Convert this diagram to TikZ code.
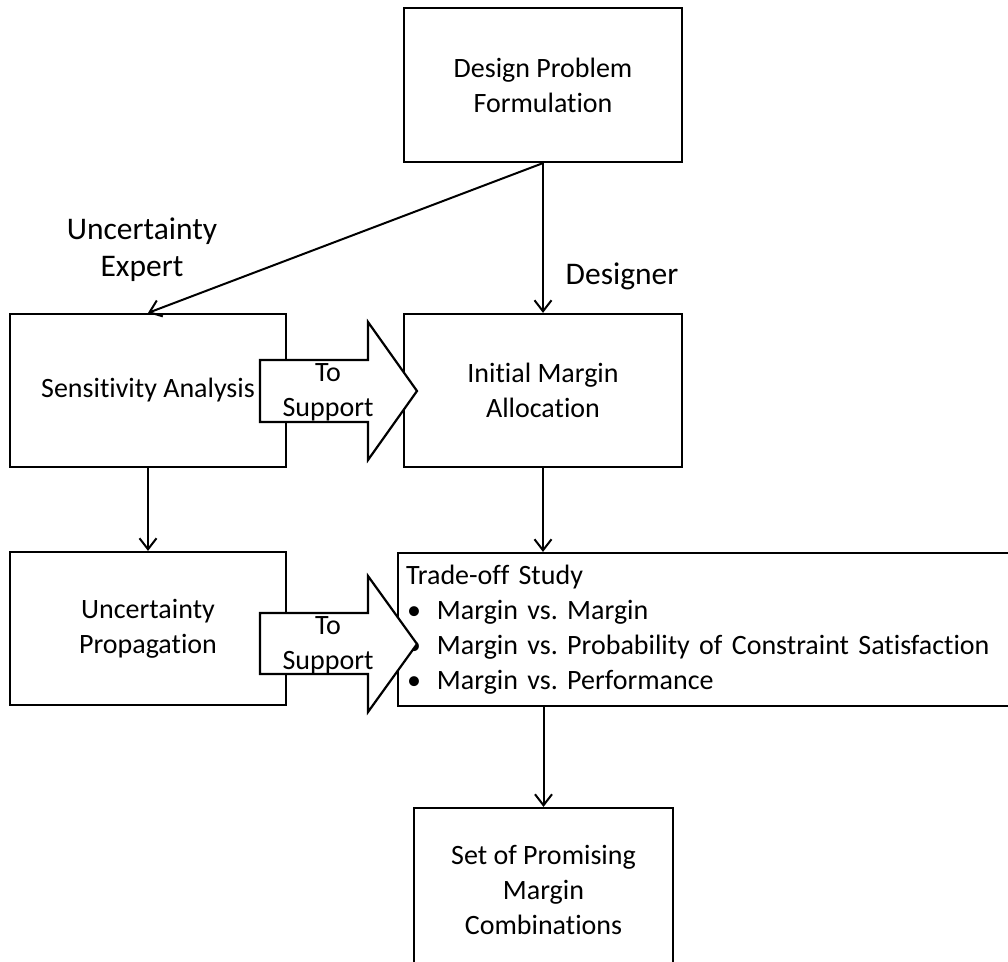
\documentclass[tikz,border=0pt]{standalone}
\usepackage{fontspec}
\setmainfont{Carlito}[Ligatures=CommonOff]
\usetikzlibrary{arrows.meta}
\begin{document}
\frenchspacing
\begin{tikzpicture}[x=1pt,y=-1pt,
  font=\fontsize{28}{35}\selectfont,
  box/.style={draw, line width=2.2pt, rectangle, align=center, inner sep=0pt},
  conn/.style={line width=2pt, -{Straight Barb[length=11pt,width=17pt,line width=2pt]}},
  blockarrow/.style={draw, fill=white, line width=2.2pt, line join=miter},
  lbl/.style={align=center, inner sep=0pt},
  biglbl/.style={align=center, inner sep=0pt, font=\fontsize{31.5}{37}\selectfont}
]
\useasboundingbox (0,0) rectangle (1008,961);

\node[box, minimum width=278pt, minimum height=154pt] (design) at (543,85) {Design Problem\\Formulation};
\node[box, minimum width=276pt, minimum height=153pt] (sens) at (148,390.5) {Sensitivity Analysis};
\node[box, minimum width=278pt, minimum height=153pt] (init) at (543,390.5) {Initial Margin\\Allocation};
\node[box, minimum width=276pt, minimum height=153pt] (prop) at (148,628.5) {Uncertainty\\Propagation};
\node[box, minimum width=617pt, minimum height=153pt, align=left, text width=601pt, inner xsep=8pt] (trade) at (706.5,629.5)
  {Trade-off Study\\
   \makebox[31pt][l]{\hspace*{1pt}\textbullet}Margin vs. Margin\\
   \makebox[31pt][l]{\hspace*{1pt}\textbullet}Margin vs. Probability of Constraint Satisfaction\\
   \makebox[31pt][l]{\hspace*{1pt}\textbullet}Margin vs. Performance};
\node[box, minimum width=259pt, minimum height=164pt] (set) at (543.5,890) {Set of Promising\\Margin\\Combinations};

\node[biglbl] (uexp) at (142,250) {Uncertainty\\Expert};
\node[biglbl] (des) at (622,276) {Designer};

\draw[conn] (design.south) -- (sens.north);
\draw[conn] (design.south) -- (init.north);
\draw[conn] (sens.south) -- (prop.north);
\draw[conn] (init.south) -- (init.south |- trade.north);
\draw[conn] (set.north |- trade.south) -- (set.north);

% block arrows
\draw[blockarrow] (260,360) -- (368,360) -- (368,322) -- (417,391) -- (368,460) -- (368,422) -- (260,422) -- cycle;
\node[lbl] (ts1) at (328,392) {To\\Support};

\draw[blockarrow] (260,613) -- (368,613) -- (368,576) -- (417,644) -- (368,712) -- (368,674) -- (260,674) -- cycle;
\node[lbl] (ts2) at (328,645) {To\\Support};
\end{tikzpicture}
\end{document}
